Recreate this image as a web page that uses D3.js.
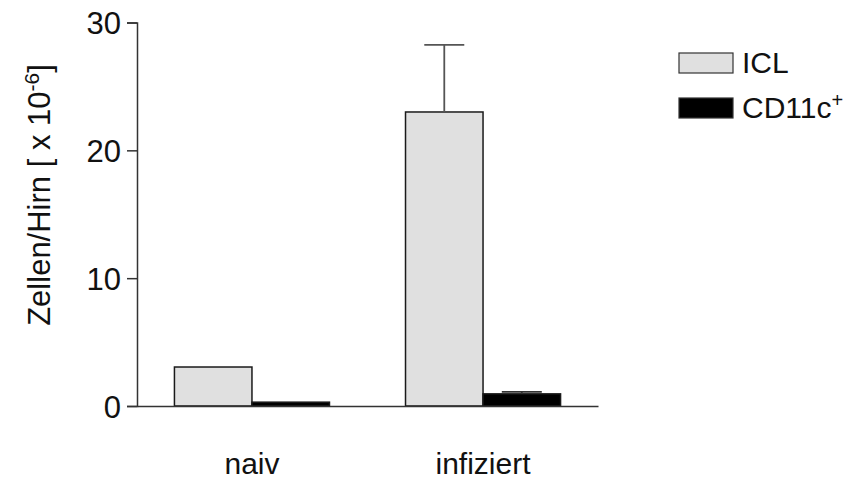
<!DOCTYPE html>
<html>
<head>
<meta charset="utf-8">
<script src="https://cdn.jsdelivr.net/npm/d3@7"></script>
<style>
  html, body { margin: 0; padding: 0; background: #fff; }
  svg { display: block; font-family: Arial, "Liberation Sans", sans-serif; }
</style>
</head>
<body>
<svg id="chart" width="856" height="482"></svg>
<script>
// Cell counts per brain (x 10^6)
const categories = ["naiv", "infiziert"];
const seriesNames = ["ICL", "CD11c+"];
const iclValues = [3.05, 23.0];
const cd11cValues = [0.3, 0.95];
const iclErrors = [0, 5.25];
const cd11cErrors = [0, 0.15];
const yTicks = [0, 10, 20, 30];

const fills = ["#e0e0e0", "#000000"];
const values = [iclValues, cd11cValues];
const errors = [iclErrors, cd11cErrors];
const font = "Arial, 'Liberation Sans', sans-serif";

const svg = d3.select("#chart");

const y = d3.scaleLinear().domain([0, 30]).range([406, 22.5]);
const x = d3.scaleBand().domain(categories).range([137, 598])
  .paddingInner(0.329).paddingOuter(0.162);
const xs = d3.scaleBand().domain(seriesNames).range([0, x.bandwidth()]);

// bars with error bars
categories.forEach((c, ci) => {
  seriesNames.forEach((s, si) => {
    const v = values[si][ci];
    svg.append("rect")
      .attr("x", x(c) + xs(s))
      .attr("y", y(v))
      .attr("width", xs.bandwidth())
      .attr("height", y(0) - y(v))
      .attr("fill", fills[si])
      .attr("stroke", "#1a1a1a")
      .attr("stroke-width", 1.5);
    const e = errors[si][ci];
    if (e > 0) {
      const cx = x(c) + xs(s) + xs.bandwidth() / 2;
      const g = svg.append("g").attr("stroke", si === 0 ? "#555" : "#333").attr("stroke-width", 1.8);
      g.append("line").attr("x1", cx).attr("x2", cx).attr("y1", y(v)).attr("y2", y(v + e));
      g.append("line").attr("x1", cx - 20).attr("x2", cx + 20).attr("y1", y(v + e)).attr("y2", y(v + e));
    }
  });
});

// y axis
const yAxis = d3.axisLeft(y).tickValues(yTicks).tickSize(10).tickPadding(6);
const gy = svg.append("g").attr("transform", "translate(137,0)").call(yAxis);
gy.select(".domain").attr("stroke", "#333").attr("stroke-width", 1.5);
gy.selectAll(".tick line").attr("stroke", "#333").attr("stroke-width", 1.5);
gy.selectAll(".tick text").attr("font-size", 31).attr("fill", "#111")
  .attr("font-family", font).attr("dy", "0.36em");

// x axis baseline and category labels
const xAxis = d3.axisBottom(x).tickSize(0).tickPadding(47);
const gx = svg.append("g").attr("transform", "translate(0,406)").call(xAxis);
gx.select(".domain").attr("stroke", "#333").attr("stroke-width", 1.5);
gx.selectAll(".tick text").attr("font-size", 30).attr("fill", "#111")
  .attr("font-family", font);

// y axis title
const yt = svg.append("text")
  .attr("transform", "translate(50,195) rotate(-90)")
  .attr("text-anchor", "middle")
  .attr("font-size", 31).attr("fill", "#111");
yt.append("tspan").text("Zellen/Hirn [ x 10");
yt.append("tspan").attr("baseline-shift", "super").attr("font-size", 21).text("-6");
yt.append("tspan").text("]");

// legend
const legend = svg.append("g");
const legendLabels = [["ICL"], ["CD11c", "+"]];
seriesNames.forEach((s, i) => {
  const ly = 53 + i * 45;
  legend.append("rect").attr("x", 679).attr("y", ly).attr("width", 54).attr("height", 20)
    .attr("fill", fills[i]).attr("stroke", "#333").attr("stroke-width", 1.2);
  const t = legend.append("text").attr("x", 742).attr("y", ly + 20)
    .attr("font-size", 30).attr("fill", "#111");
  t.append("tspan").text(legendLabels[i][0]);
  if (legendLabels[i][1]) {
    t.append("tspan").attr("baseline-shift", "super").attr("font-size", 20).text(legendLabels[i][1]);
  }
});
</script>
</body>
</html>
